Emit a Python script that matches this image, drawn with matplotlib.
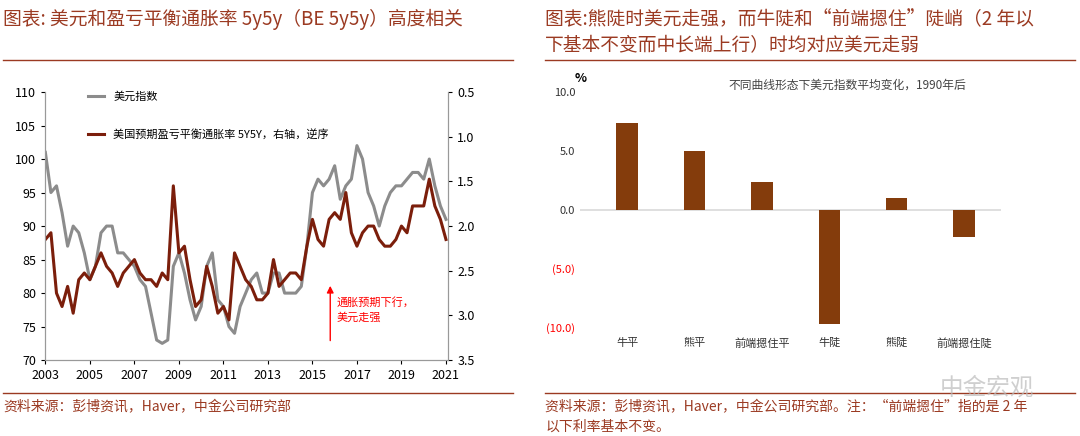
import numpy as np
import matplotlib.pyplot as plt
from matplotlib.lines import Line2D

plt.rcParams['font.family'] = ['Noto Sans CJK SC', 'DejaVu Sans']

# quarterly samples, 2003.0 .. 2021.0
years = np.arange(2003.0, 2021.01, 0.25)
dxy = [101, 95, 96, 92, 87, 90, 89, 86, 82, 84, 89, 90, 90, 86, 86, 85,
       84, 82, 81, 77, 73, 72.5, 73, 84, 86, 83, 79, 76, 78, 84, 86, 79,
       78, 75, 74, 78, 80, 82, 83, 80, 80, 83, 83, 80, 80, 80, 81, 87,
       95, 97, 96, 97, 99, 94, 96, 97, 102, 100, 95, 93, 90, 93, 95, 96,
       96, 97, 98, 98, 97, 100, 96, 93, 91]
be5y5y = [2.15, 2.075, 2.75, 2.9, 2.675, 2.975, 2.6, 2.525, 2.6, 2.45, 2.3, 2.45,
          2.525, 2.675, 2.525, 2.45, 2.375, 2.525, 2.6, 2.6, 2.675, 2.525, 2.6, 1.55,
          2.3, 2.225, 2.6, 2.9, 2.825, 2.45, 2.675, 2.975, 2.9, 3.05, 2.3, 2.45,
          2.6, 2.675, 2.825, 2.825, 2.75, 2.375, 2.675, 2.6, 2.525, 2.525, 2.6, 2.225,
          1.925, 2.15, 2.225, 1.925, 1.85, 1.925, 1.625, 2.075, 2.225, 2.075, 2.0, 2.0,
          2.15, 2.225, 2.225, 2.15, 2.0, 2.075, 1.775, 1.775, 1.775, 1.475, 1.775, 1.925,
          2.15]

shapes = ['牛平', '熊平', '前端摁住平', '牛陡', '熊陡', '前端摁住陡']
dxy_change = [7.4, 5.0, 2.4, -9.7, 1.0, -2.3]

TITLE_C = '#9B3A22'
BROWN = '#7B1E0B'
BAR_C = '#843C0C'

fig = plt.figure(figsize=(10.8, 4.36), dpi=100)

# ---- left panel
ax = fig.add_axes([0.042, 0.174, 0.373, 0.615])
ax.plot(years, dxy, color='#8C8C8C', lw=2.2, label='美元指数')
ax.set_ylim(70, 110)
ax.set_xlim(2003, 2021.1)
ax.set_xticks(range(2003, 2022, 2))
ax.set_yticks(range(70, 111, 5))
ax.tick_params(labelsize=9, length=3)
ax2 = ax.twinx()
ax2.plot(years, be5y5y, color=BROWN, lw=2.2, label='美国预期盈亏平衡通胀率 5Y5Y，右轴，逆序')
ax2.set_ylim(3.5, 0.5)
ax2.set_yticks(np.arange(0.5, 3.51, 0.5))
ax2.set_yticklabels([f'{v:.1f}' for v in np.arange(0.5, 3.51, 0.5)])
ax2.tick_params(labelsize=9, length=3)
for a in (ax, ax2):
    a.spines['top'].set_visible(False)
    for s in a.spines.values():
        s.set_color('#999999')
ax.legend(handles=[ax.lines[0]], loc='upper left', bbox_to_anchor=(0.08, 1.04),
          frameon=False, fontsize=8, handlelength=1.5)
ax2.legend(loc='upper left', bbox_to_anchor=(0.08, 0.9), frameon=False,
           fontsize=8, handlelength=1.5)
ax.annotate('', xy=(2015.8, 81.5), xytext=(2015.8, 72.5),
            arrowprops=dict(arrowstyle='-|>', color='red', lw=1))
ax.text(2016.1, 77.5, '通胀预期下行，\n美元走强', color='red', fontsize=8,
        va='center', linespacing=1.6)

# ---- right panel
bx = fig.add_axes([0.537, 0.248, 0.39, 0.541])
x = np.arange(len(shapes))
bx.bar(x, dxy_change, width=0.32, color=BAR_C)
bx.axhline(0, color='#D9D9D9', lw=1.2, zorder=0)
bx.set_ylim(-10, 10)
bx.set_xlim(-0.7, 5.55)
ticks = [10, 5, 0, -5, -10]
bx.set_yticks(ticks)
bx.set_yticklabels([f'{t:.1f}' if t >= 0 else f'({-t:.1f})' for t in ticks])
for lbl, t in zip(bx.get_yticklabels(), ticks):
    lbl.set_color('red' if t < 0 else '#333333')
bx.tick_params(axis='y', length=0, labelsize=8)
bx.set_xticks([])
for s in bx.spines.values():
    s.set_visible(False)
for xi, name in zip(x, shapes):
    bx.text(xi, -11.3, name, ha='center', va='center', fontsize=8, color='#333333')
bx.text(-0.78, 10.6, '%', fontsize=9, fontweight='bold', ha='left', va='bottom')
bx.text(1.5, 10.6, '不同曲线形态下美元指数平均变化，1990年后', fontsize=8.5,
        color='#444444', va='center')

# ---- titles, rules, sources
fig.text(0.003, 0.955, '图表: 美元和盈亏平衡通胀率 5y5y（BE 5y5y）高度相关',
         color=TITLE_C, fontsize=13.5, style='italic', va='center')
fig.text(0.505, 0.955, '图表:熊陡时美元走强，而牛陡和“前端摁住”陡峭（2 年以',
         color=TITLE_C, fontsize=13.5, style='italic', va='center')
fig.text(0.505, 0.895, '下基本不变而中长端上行）时均对应美元走弱',
         color=TITLE_C, fontsize=13.5, style='italic', va='center')
for x0, x1 in [(0.003, 0.475), (0.505, 0.995)]:
    fig.add_artist(Line2D([x0, x1], [0.862, 0.862], color=TITLE_C, lw=1))
    fig.add_artist(Line2D([x0, x1], [0.098, 0.098], color=TITLE_C, lw=1))
fig.text(0.003, 0.067, '资料来源：彭博资讯，Haver，中金公司研究部', color=TITLE_C,
         fontsize=10, style='italic', va='center')
fig.text(0.505, 0.067, '资料来源：彭博资讯，Haver，中金公司研究部。注：“前端摁住”指的是 2 年',
         color=TITLE_C, fontsize=10, style='italic', va='center')
fig.text(0.505, 0.022, '以下利率基本不变。', color=TITLE_C, fontsize=10,
         style='italic', va='center')
fig.text(0.87, 0.11, '中金宏观', color='#BBBBBB', fontsize=17, alpha=0.7, va='center')

fig.savefig('out.png', dpi=100)
